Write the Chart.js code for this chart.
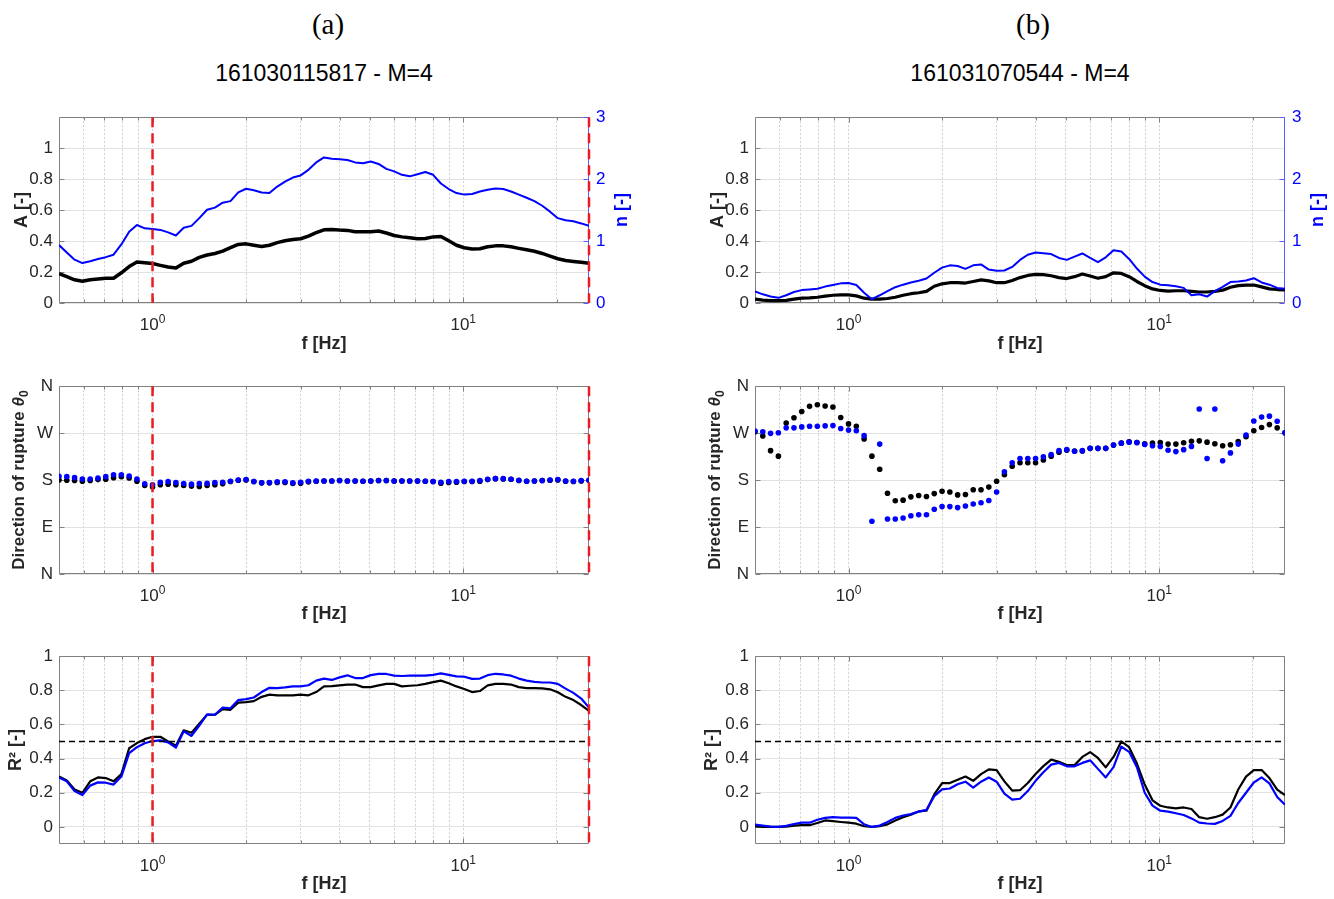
<!DOCTYPE html>
<html>
<head>
<meta charset="utf-8">
<script src="https://cdn.jsdelivr.net/npm/chart.js@4.4.1/dist/chart.umd.min.js"></script>
<style>
  body { margin: 0; background: #fff; width: 1334px; height: 899px; position: relative; overflow: hidden; }
  canvas { position: absolute; }
  .lbl { position: absolute; white-space: nowrap; transform: translateX(-50%); color: #000; }
  .tag { font-family: 'Liberation Serif', 'Times New Roman', serif; font-size: 29px; line-height: 29px; top: 10px; }
  .sub { font-family: 'Liberation Sans', Arial, sans-serif; font-size: 23px; line-height: 23px; top: 62px; }
</style>
</head>
<body>
<div class="lbl tag" style="left:328px">(a)</div>
<div class="lbl tag" style="left:1033px">(b)</div>
<div class="lbl sub" style="left:324px">161030115817 - M=4</div>
<div class="lbl sub" style="left:1020px">161031070544 - M=4</div>

<canvas id="aTop" width="667" height="262" style="left:0;top:100px"></canvas>
<canvas id="aMid" width="667" height="262" style="left:0;top:370px"></canvas>
<canvas id="aBot" width="667" height="259" style="left:0;top:640px"></canvas>
<canvas id="bTop" width="667" height="262" style="left:696px;top:100px"></canvas>
<canvas id="bMid" width="667" height="262" style="left:696px;top:370px"></canvas>
<canvas id="bBot" width="667" height="259" style="left:696px;top:640px"></canvas>

<script>
// frequencies (1/12 octave bins), Hz
const FREQ = [0.5, 0.5297, 0.5612, 0.5946, 0.63, 0.6674, 0.7071, 0.7492, 0.7937, 0.8409,
  0.8909, 0.9439, 1.0, 1.0595, 1.1225, 1.1892, 1.2599, 1.3348, 1.4142, 1.4983,
  1.5874, 1.6818, 1.7818, 1.8877, 2.0, 2.1189, 2.2449, 2.3784, 2.5198, 2.6697,
  2.8284, 2.9966, 3.1748, 3.3636, 3.5636, 3.7755, 4.0, 4.2379, 4.4898, 4.7568,
  5.0397, 5.3394, 5.6569, 5.9932, 6.3496, 6.7272, 7.1272, 7.551, 8.0, 8.4757,
  8.9797, 9.5137, 10.0794, 10.6787, 11.3137, 11.9865, 12.6992, 13.4543, 14.2544, 15.1021,
  16.0, 16.9514, 17.9594, 19.0273, 20.1587, 21.3575, 22.6274, 23.9729, 25.3984];

// (a) 161030115817
const A_LEFT = [0.19, 0.17, 0.15, 0.14, 0.15, 0.155, 0.16, 0.16, 0.195, 0.235,
  0.265, 0.26, 0.255, 0.243, 0.232, 0.226, 0.257, 0.27, 0.295, 0.31,
  0.32, 0.335, 0.357, 0.378, 0.382, 0.373, 0.365, 0.373, 0.39, 0.402,
  0.41, 0.415, 0.432, 0.454, 0.473, 0.475, 0.471, 0.469, 0.46, 0.46,
  0.46, 0.465, 0.452, 0.436, 0.427, 0.421, 0.415, 0.417, 0.427, 0.43,
  0.402, 0.373, 0.357, 0.349, 0.35, 0.363, 0.369, 0.369, 0.363, 0.353,
  0.344, 0.334, 0.32, 0.303, 0.286, 0.274, 0.268, 0.263, 0.257];
const N_LEFT = [0.935, 0.815, 0.70, 0.645, 0.675, 0.71, 0.74, 0.78, 0.945, 1.15,
  1.26, 1.205, 1.195, 1.18, 1.14, 1.09, 1.215, 1.245, 1.37, 1.505,
  1.54, 1.62, 1.645, 1.785, 1.845, 1.82, 1.785, 1.775, 1.88, 1.96,
  2.025, 2.06, 2.15, 2.27, 2.35, 2.33, 2.32, 2.31, 2.27, 2.255,
  2.285, 2.245, 2.165, 2.125, 2.07, 2.045, 2.08, 2.115, 2.07, 1.93,
  1.84, 1.775, 1.75, 1.76, 1.80, 1.83, 1.85, 1.84, 1.80, 1.75,
  1.70, 1.645, 1.57, 1.475, 1.37, 1.335, 1.32, 1.285, 1.245];
const DIR_BLACK_LEFT = [180.3, 179.7, 179.1, 177.8, 179.1, 181, 181.6, 184.7, 186.6, 184,
  177.8, 169.7, 166.6, 171, 172.2, 171, 169.7, 168.5, 167.8, 169.7,
  171, 172.8, 177.2, 179.7, 180.3, 177.2, 174.7, 174.7, 175.3, 175.3,
  173.4, 174, 176.6, 177.8, 178.4, 178.4, 179.1, 178.4, 178.4, 177.8,
  178.4, 179.1, 179.1, 178.4, 178.4, 178.4, 178.4, 177.8, 177.2, 174,
  175.3, 176, 177.2, 177.2, 177.8, 181, 182.8, 182.2, 181.6, 179.1,
  177.8, 178.4, 179.1, 179.7, 180.3, 177.8, 177.2, 178.4, 179.7];
const DIR_BLUE_LEFT = [187.2, 186.6, 184.7, 182.2, 182.2, 184, 186.6, 190.3, 190.3, 187.8,
  182.2, 172.8, 171, 176, 177.2, 175.3, 173.4, 172.2, 173.4, 174,
  175.3, 176, 177.8, 180.3, 181, 177.2, 174.7, 175.3, 176.6, 176.6,
  174.7, 176, 177.8, 178.4, 178.4, 178.4, 179.1, 178.4, 178.4, 177.8,
  178.4, 179.1, 179.1, 178.4, 178.4, 178.4, 178.4, 177.8, 177.2, 176,
  177.2, 177.2, 177.8, 177.8, 179.1, 181.6, 182.8, 182.8, 181.6, 179.7,
  177.8, 178.4, 179.1, 180.3, 181, 178.4, 177.8, 179.1, 179.7];
const R2_BLACK_LEFT = [0.295, 0.272, 0.219, 0.20, 0.267, 0.29, 0.286, 0.267, 0.309, 0.461,
  0.491, 0.514, 0.528, 0.528, 0.501, 0.476, 0.566, 0.552, 0.604, 0.657,
  0.657, 0.69, 0.686, 0.728, 0.731, 0.737, 0.762, 0.775, 0.77, 0.77,
  0.771, 0.775, 0.771, 0.79, 0.823, 0.825, 0.829, 0.834, 0.834, 0.819,
  0.819, 0.829, 0.838, 0.838, 0.823, 0.827, 0.83, 0.838, 0.848, 0.857,
  0.842, 0.823, 0.808, 0.79, 0.796, 0.829, 0.838, 0.838, 0.834, 0.819,
  0.813, 0.813, 0.811, 0.806, 0.789, 0.762, 0.743, 0.714, 0.68];
const R2_BLUE_LEFT = [0.29, 0.267, 0.21, 0.187, 0.242, 0.261, 0.259, 0.248, 0.295, 0.432,
  0.467, 0.49, 0.503, 0.507, 0.495, 0.465, 0.56, 0.533, 0.594, 0.659,
  0.657, 0.699, 0.695, 0.743, 0.749, 0.758, 0.79, 0.815, 0.813, 0.817,
  0.823, 0.823, 0.83, 0.857, 0.869, 0.861, 0.876, 0.888, 0.872, 0.872,
  0.889, 0.896, 0.896, 0.886, 0.884, 0.886, 0.886, 0.886, 0.891, 0.899,
  0.891, 0.882, 0.88, 0.867, 0.869, 0.889, 0.897, 0.893, 0.886, 0.869,
  0.857, 0.85, 0.846, 0.846, 0.838, 0.81, 0.785, 0.752, 0.699];

// (b) 161031070544
const A_RIGHT = [0.025, 0.019, 0.015, 0.015, 0.017, 0.025, 0.031, 0.033, 0.037, 0.044,
  0.05, 0.052, 0.052, 0.046, 0.031, 0.025, 0.025, 0.029, 0.037, 0.05,
  0.06, 0.066, 0.075, 0.108, 0.124, 0.131, 0.131, 0.129, 0.139, 0.149,
  0.143, 0.131, 0.131, 0.145, 0.164, 0.178, 0.185, 0.183, 0.176, 0.164,
  0.158, 0.17, 0.187, 0.174, 0.16, 0.17, 0.195, 0.191, 0.17, 0.139,
  0.112, 0.091, 0.081, 0.077, 0.079, 0.079, 0.075, 0.071, 0.071, 0.075,
  0.083, 0.102, 0.112, 0.116, 0.116, 0.104, 0.091, 0.087, 0.085];
const N_RIGHT = [0.187, 0.14, 0.104, 0.083, 0.125, 0.177, 0.208, 0.218, 0.229, 0.265,
  0.291, 0.317, 0.322, 0.291, 0.166, 0.062, 0.125, 0.192, 0.255, 0.296,
  0.332, 0.358, 0.395, 0.488, 0.571, 0.608, 0.597, 0.551, 0.608, 0.623,
  0.54, 0.519, 0.525, 0.582, 0.696, 0.779, 0.816, 0.805, 0.79, 0.727,
  0.696, 0.748, 0.80, 0.727, 0.66, 0.738, 0.852, 0.831, 0.712, 0.556,
  0.426, 0.338, 0.296, 0.286, 0.27, 0.244, 0.125, 0.14, 0.104, 0.192,
  0.26, 0.338, 0.348, 0.364, 0.40, 0.332, 0.296, 0.244, 0.229];
const DIR_BLACK_RIGHT = [272.7, 264.6, 236.5, 225.9, 289.5, 299.5, 311.4, 321.4, 324.5, 322,
  320.1, 300.1, 287.7, 283.3, 259, 225.9, 200.9, 154.8, 140.4, 141.6,
  147.9, 150.4, 148.5, 154.1, 158.5, 157.2, 151.6, 152.3, 161.6, 161.6,
  166.6, 177.8, 190.3, 206.5, 213.4, 213.4, 213.4, 218.4, 225.9, 233.4,
  237.1, 235.9, 235.9, 240.9, 240.9, 240.9, 247.1, 250.8, 253.3, 252.1,
  249.6, 250.8, 252.1, 249, 249, 251.5, 254.6, 255.2, 252.7, 249.6,
  245.9, 247.7, 254, 263.3, 274.6, 280.8, 286.4, 280.2, 270.8];
const DIR_BLUE_RIGHT = [274, 272.7, 269.6, 270.8, 280.2, 280.2, 282, 283.3, 283.3, 283.9,
  284.5, 278.9, 275.8, 274.6, 265.2, 101.1, 249, 105.5, 105.5, 107.3,
  111.7, 113.6, 113.6, 124.2, 129.2, 129.2, 127.3, 130.4, 134.2, 136.7,
  141, 157.2, 195.9, 213.4, 221.5, 221.5, 221.5, 224.6, 229, 236.5,
  238.4, 235.2, 236.5, 240.9, 240.9, 240.9, 247.1, 250.8, 252.7, 252.1,
  248.4, 245.9, 244.6, 237.1, 234.6, 238.4, 244.6, 316.4, 221.5, 316.4,
  217.2, 232.1, 249, 266.4, 293.3, 300.8, 302.6, 292.7, 270.8];
const R2_BLACK_RIGHT = [0.004, 0, 0, 0, 0.002, 0.008, 0.01, 0.01, 0.023, 0.038,
  0.034, 0.029, 0.025, 0.019, 0.004, 0, 0.004, 0.015, 0.038, 0.057,
  0.072, 0.091, 0.095, 0.19, 0.257, 0.257, 0.276, 0.295, 0.27, 0.309,
  0.337, 0.333, 0.267, 0.213, 0.215, 0.257, 0.31, 0.356, 0.394, 0.381,
  0.362, 0.362, 0.41, 0.438, 0.404, 0.349, 0.41, 0.501, 0.467, 0.371,
  0.248, 0.156, 0.124, 0.114, 0.109, 0.114, 0.105, 0.057, 0.048, 0.057,
  0.072, 0.114, 0.219, 0.295, 0.333, 0.333, 0.286, 0.219, 0.187];
const R2_BLUE_RIGHT = [0.013, 0.008, 0.002, 0, 0.006, 0.017, 0.025, 0.025, 0.042, 0.053,
  0.057, 0.055, 0.055, 0.053, 0.015, 0, 0.008, 0.029, 0.053, 0.067,
  0.075, 0.09, 0.1, 0.18, 0.22, 0.225, 0.25, 0.265, 0.23, 0.265,
  0.29, 0.265, 0.195, 0.16, 0.165, 0.21, 0.27, 0.32, 0.365, 0.375,
  0.355, 0.355, 0.375, 0.39, 0.34, 0.29, 0.35, 0.47, 0.44, 0.35,
  0.2, 0.125, 0.095, 0.09, 0.08, 0.07, 0.05, 0.025, 0.02, 0.018,
  0.035, 0.065, 0.14, 0.2, 0.26, 0.29, 0.255, 0.175, 0.13];

// axes
const X_MIN = 0.5, X_MAX = 25.4;
const X_GRID = [0.6, 0.7, 0.8, 0.9, 1, 2, 3, 4, 5, 6, 7, 8, 9, 10, 20];
const X_LABELED = [1, 10];
const A_TICKS = [0, 0.2, 0.4, 0.6, 0.8, 1];
const N_TICKS = [0, 1, 2, 3];
const DIR_TICKS = [0, 90, 180, 270, 360];
const DIR_LABELS = ['N', 'E', 'S', 'W', 'N'];
const R2_TICKS = [0, 0.2, 0.4, 0.6, 0.8, 1];
const CUTOFFS_LEFT = [1, 25.4];
const R2_THRESHOLD = 0.5;

const FONT_FAMILY = "'Liberation Sans', Arial, Helvetica, sans-serif";
const TEXT_COLOR = '#262626';
const FRAME_COLOR = '#808080';
const BLUE = '#0000ff';
const AXIS_BLUE = '#5a5aff';
const RED = '#ea1d22';
const TICK_SIZE = 17, TITLE_SIZE = 18;

const ROWS = {
  top: { plotH: 191, xh: 56, padB: 3, padL: 7 },
  mid: { plotH: 192, xh: 55, padB: 3, padL: 4 },
  bot: { plotH: 192, xh: 55, padB: 0, padL: 1 }
};
const PLOT_LEFT = 59, PLOT_RIGHT = 589, CANVAS_W = 667;

const pts = vals => FREQ.map((f, i) => ({ x: f, y: vals[i] }));

const matlabAxes = {
  id: 'matlabAxes',
  beforeDatasetsDraw(chart) {
    const { ctx, chartArea: a } = chart;
    const sx = chart.scales.x, sy = chart.scales.y, sy2 = chart.scales.y2;
    const L = Math.round(a.left) + 0.5, R = Math.round(a.right) - 0.5;
    const T = Math.round(a.top) + 0.5, B = Math.round(a.bottom) - 0.5;
    ctx.save();
    ctx.lineWidth = 1;
    ctx.strokeStyle = FRAME_COLOR;
    ctx.beginPath();
    sx.ticks.forEach(t => {
      const px = Math.round(sx.getPixelForValue(t.value)) + 0.5;
      const len = t.major ? 5 : 3;
      ctx.moveTo(px, B); ctx.lineTo(px, B - len);
      ctx.moveTo(px, T); ctx.lineTo(px, T + len);
    });
    sy.ticks.forEach(t => {
      const py = Math.round(sy.getPixelForValue(t.value)) + 0.5;
      ctx.moveTo(L, py); ctx.lineTo(L + 5, py);
      if (!sy2) { ctx.moveTo(R, py); ctx.lineTo(R - 5, py); }
    });
    ctx.moveTo(R, T); ctx.lineTo(L, T); ctx.lineTo(L, B); ctx.lineTo(R, B);
    if (!sy2) { ctx.lineTo(R, T); }
    ctx.stroke();
    if (sy2) {
      ctx.strokeStyle = AXIS_BLUE;
      ctx.beginPath();
      ctx.moveTo(R, T); ctx.lineTo(R, B);
      sy2.ticks.forEach(t => {
        const py = Math.round(sy2.getPixelForValue(t.value)) + 0.5;
        ctx.moveTo(R, py); ctx.lineTo(R - 5, py);
      });
      ctx.stroke();
    }
    ctx.restore();
  },
  afterDraw(chart, args, opts) {
    const { ctx, chartArea: a } = chart;
    const sx = chart.scales.x;
    const midY = (a.top + a.bottom) / 2;
    ctx.save();
    ctx.fillStyle = TEXT_COLOR;
    ctx.textBaseline = 'alphabetic';
    ctx.textAlign = 'left';
    // x tick labels 10^k with raised exponent
    X_LABELED.forEach(v => {
      const px = sx.getPixelForValue(v);
      const exp = String(Math.round(Math.log10(v)));
      ctx.font = TICK_SIZE + 'px ' + FONT_FAMILY;
      const wb = ctx.measureText('10').width;
      ctx.font = '12px ' + FONT_FAMILY;
      const we = ctx.measureText(exp).width;
      const x0 = px - (wb + we) / 2;
      ctx.font = TICK_SIZE + 'px ' + FONT_FAMILY;
      ctx.fillText('10', x0, a.bottom + 27);
      ctx.font = '12px ' + FONT_FAMILY;
      ctx.fillText(exp, x0 + wb, a.bottom + 19.5);
    });
    // rich left title (theta with subscript)
    if (opts && opts.richTitle) {
      ctx.save();
      ctx.translate(18, midY);
      ctx.rotate(-Math.PI / 2);
      const parts = opts.richTitle;
      let total = 0;
      parts.forEach(p => { ctx.font = p.font; p.w = ctx.measureText(p.text).width; total += p.w; });
      let cx = -total / 2;
      parts.forEach(p => { ctx.font = p.font; ctx.fillText(p.text, cx, 6 + (p.dy || 0)); cx += p.w; });
      ctx.restore();
    }
    // right axis title, bottom-to-top like the left one
    if (opts && opts.y2Title) {
      ctx.translate(a.right + 33, midY);
      ctx.rotate(-Math.PI / 2);
      ctx.font = 'bold ' + TITLE_SIZE + 'px ' + FONT_FAMILY;
      ctx.fillStyle = BLUE;
      ctx.textAlign = 'center';
      ctx.textBaseline = 'middle';
      ctx.fillText(opts.y2Title, 0, 0);
    }
    ctx.restore();
  }
};

function lineSet(vals, color, width, axis, order) {
  return { data: pts(vals), borderColor: color, borderWidth: width, pointRadius: 0,
    tension: 0, borderJoinStyle: 'round', yAxisID: axis || 'y', order: order };
}
function dotSet(vals, color, order) {
  return { data: pts(vals), showLine: false, pointRadius: 2.8, pointBorderWidth: 0,
    pointBackgroundColor: color, borderColor: color, order: order };
}
function cutoffSets(cutoffs, yMin, yMax) {
  return cutoffs.map(c => ({ data: [{ x: c, y: yMax }, { x: c, y: yMin }], borderColor: RED,
    borderWidth: 2.5, borderDash: [10, 6], pointRadius: 0, clip: false, order: 0 }));
}
function thresholdSet() {
  return { data: [{ x: X_MIN, y: R2_THRESHOLD }, { x: X_MAX, y: R2_THRESHOLD }], borderColor: '#000',
    borderWidth: 1.5, borderDash: [6, 4], pointRadius: 0, order: 1 };
}

function makeChart(id, cfg) {
  const row = ROWS[cfg.row];
  const hasY2 = !!cfg.y2;
  const y2W = 44;
  const titleFont = { family: FONT_FAMILY, size: TITLE_SIZE, weight: 'bold' };
  const scales = {
    x: {
      type: 'logarithmic', min: X_MIN, max: X_MAX,
      afterBuildTicks: s => { s.ticks = X_GRID.map(v => ({ value: v, major: X_LABELED.includes(v) })); },
      afterFit: s => { s.height = row.xh; },
      grid: { color: '#d0d0d0', lineWidth: 1, drawTicks: false },
      border: { display: false, dash: [2, 2] },
      ticks: { display: false },
      title: { display: true, text: 'f [Hz]', color: TEXT_COLOR, font: titleFont }
    },
    y: {
      position: 'left', min: cfg.yMin, max: cfg.yMax,
      afterBuildTicks: s => { s.ticks = cfg.yTicks.map(v => ({ value: v })); },
      afterFit: s => { s.width = PLOT_LEFT - row.padL; },
      grid: { color: '#e2e2e2', lineWidth: 1, drawTicks: false },
      border: { display: false },
      ticks: { color: TEXT_COLOR, padding: 6, font: { family: FONT_FAMILY, size: TICK_SIZE }, callback: cfg.yLabel },
      title: { display: !!cfg.yTitle, text: cfg.yTitle || '', color: TEXT_COLOR, font: titleFont }
    }
  };
  if (hasY2) {
    scales.y2 = {
      position: 'right', min: cfg.y2.min, max: cfg.y2.max,
      afterBuildTicks: s => { s.ticks = cfg.y2.ticks.map(v => ({ value: v })); },
      afterFit: s => { s.width = y2W; },
      grid: { display: false, drawTicks: false },
      border: { display: false },
      ticks: { color: BLUE, padding: 7, font: { family: FONT_FAMILY, size: TICK_SIZE }, callback: v => String(v) }
    };
  }
  new Chart(document.getElementById(id), {
    type: 'line',
    data: { datasets: cfg.datasets },
    options: {
      responsive: false, animation: false, devicePixelRatio: 1, events: [],
      layout: { padding: { left: row.padL, top: 12, bottom: row.padB,
        right: CANVAS_W - PLOT_RIGHT - (hasY2 ? y2W : 0) } },
      plugins: { legend: { display: false }, tooltip: { enabled: false },
        matlabAxes: { y2Title: hasY2 ? cfg.y2.title : null, richTitle: cfg.richTitle || null } },
      scales: scales
    },
    plugins: [matlabAxes]
  });
}

const numLabel = v => String(+(+v).toFixed(1));
const dirLabel = (v, i) => DIR_LABELS[i];
const DIR_TITLE = [
  { text: 'Direction of rupture ', font: 'bold 17px ' + FONT_FAMILY },
  { text: 'θ', font: 'italic bold 17px ' + FONT_FAMILY },
  { text: '0', font: 'bold 12px ' + FONT_FAMILY, dy: 4 }
];

// (a)
makeChart('aTop', { row: 'top', yMin: 0, yMax: 1.2, yTicks: A_TICKS, yLabel: numLabel, yTitle: 'A [-]',
  y2: { min: 0, max: 3, ticks: N_TICKS, title: 'n [-]' },
  datasets: [...cutoffSets(CUTOFFS_LEFT, 0, 1.2), lineSet(N_LEFT, BLUE, 2, 'y2', 2), lineSet(A_LEFT, '#000', 3.5, 'y', 3)] });
makeChart('aMid', { row: 'mid', yMin: 0, yMax: 360, yTicks: DIR_TICKS, yLabel: dirLabel, richTitle: DIR_TITLE,
  datasets: [...cutoffSets(CUTOFFS_LEFT, 0, 360), dotSet(DIR_BLUE_LEFT, BLUE, 2), dotSet(DIR_BLACK_LEFT, '#000', 3)] });
makeChart('aBot', { row: 'bot', yMin: -0.1, yMax: 1, yTicks: R2_TICKS, yLabel: numLabel, yTitle: 'R² [-]',
  datasets: [...cutoffSets(CUTOFFS_LEFT, -0.1, 1), thresholdSet(),
    lineSet(R2_BLUE_LEFT, BLUE, 2.2, 'y', 2), lineSet(R2_BLACK_LEFT, '#000', 2.2, 'y', 3)] });

// (b)
makeChart('bTop', { row: 'top', yMin: 0, yMax: 1.2, yTicks: A_TICKS, yLabel: numLabel, yTitle: 'A [-]',
  y2: { min: 0, max: 3, ticks: N_TICKS, title: 'n [-]' },
  datasets: [lineSet(N_RIGHT, BLUE, 2, 'y2', 2), lineSet(A_RIGHT, '#000', 3.2, 'y', 3)] });
makeChart('bMid', { row: 'mid', yMin: 0, yMax: 360, yTicks: DIR_TICKS, yLabel: dirLabel, richTitle: DIR_TITLE,
  datasets: [dotSet(DIR_BLUE_RIGHT, BLUE, 2), dotSet(DIR_BLACK_RIGHT, '#000', 3)] });
makeChart('bBot', { row: 'bot', yMin: -0.1, yMax: 1, yTicks: R2_TICKS, yLabel: numLabel, yTitle: 'R² [-]',
  datasets: [thresholdSet(), lineSet(R2_BLUE_RIGHT, BLUE, 2.2, 'y', 2), lineSet(R2_BLACK_RIGHT, '#000', 2.2, 'y', 3)] });
</script>
</body>
</html>
